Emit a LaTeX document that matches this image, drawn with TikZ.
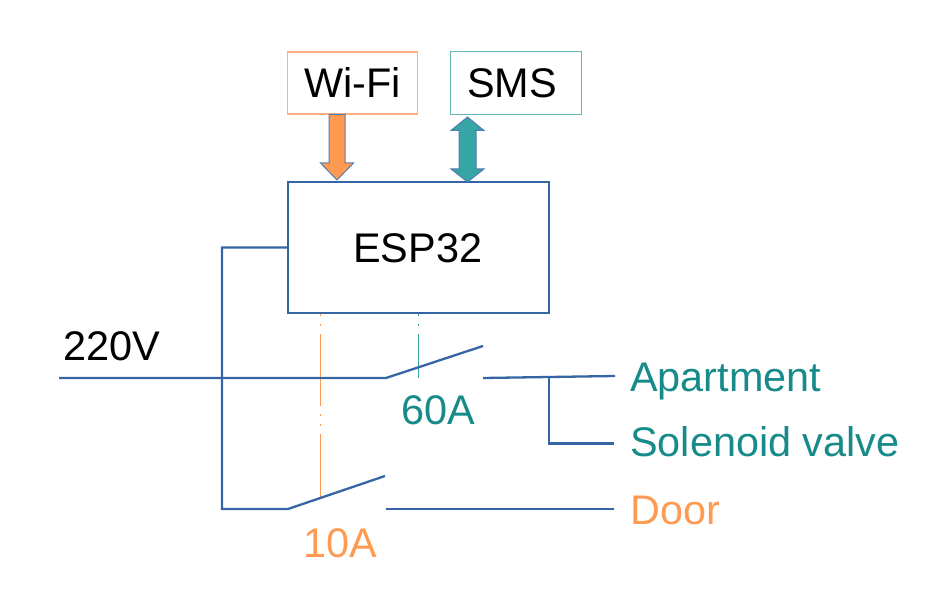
\documentclass[tikz,border=0pt]{standalone}
\usepackage{fontspec}
\setmainfont{Liberation Sans}
\definecolor{wire}{HTML}{3565A5}
\definecolor{orng}{HTML}{FF9A52}
\definecolor{orngline}{HTML}{FFB083}
\definecolor{teal1}{HTML}{36A5A5}
\definecolor{tealline}{HTML}{66B8B8}
\definecolor{tealtxt}{HTML}{178A8A}
\tikzset{
  wireline/.style={draw=wire,line width=2.3pt},
  lbl/.style={font=\fontsize{41.4}{41.4}\selectfont,inner sep=0pt,anchor=base west},
  topbox/.style={line width=1.2pt,fill=white,inner sep=0pt},
  ctrl/.style={line width=1.3pt,dash pattern=on 2pt off 8pt on 2pt off 8pt on 72pt off 8pt},
  blockarrow/.style={draw=wire!85!white,line width=1pt},
}
\begin{document}
\begin{tikzpicture}[x=1pt,y=-1pt]
\useasboundingbox (0,0) rectangle (943,604);
% control lines
\coordinate (c1top) at (320.5,314);
\coordinate (c1bot) at (320.5,498);
\coordinate (c2top) at (418.5,314);
\coordinate (c2bot) at (418.5,378);
\draw[ctrl,draw=orng] (c1top) -- (c1bot);
\draw[ctrl,draw=teal1] (c2top) -- (c2bot);
% boxes
\node[topbox,draw=orngline,minimum width=130pt,minimum height=62pt] (wifi) at (352.5,83) {};
\node[topbox,draw=tealline,minimum width=131pt,minimum height=63pt] (sms) at (516,83) {};
\node[wireline,inner sep=0pt,minimum width=261pt,minimum height=131pt] (esp) at (418.5,247.5) {};
\node[lbl] at (304,98) {Wi-Fi};
\node[lbl] at (467,98) {SMS};
\node[lbl] at (353,263) {ESP32};
% block arrows
\draw[blockarrow,fill=orng] (329,114.5) -- (345,114.5) -- (345,163) -- (353.5,163) -- (337,180) -- (320.5,163) -- (329,163) -- cycle;
\draw[blockarrow,fill=teal1] (467.5,117) -- (484,130.5) -- (476,130.5) -- (476,169) -- (484,169) -- (467.5,182) -- (451,169) -- (459,169) -- (459,130.5) -- (451,130.5) -- cycle;
% wiring
\coordinate (in) at (59,378);
\coordinate (sw1a) at (386,378);
\coordinate (sw1b) at (483,346);
\coordinate (sw1c) at (483,378);
\coordinate (apt) at (615,376);
\coordinate (j) at (549,377);
\coordinate (sol) at (614,443.5);
\coordinate (sw2a) at (288,509);
\coordinate (sw2b) at (385,476);
\coordinate (sw2c) at (386,509);
\coordinate (door) at (614,509);
\draw[wireline,fill=none] (in) -- (sw1a) -- (sw1b);
\draw[wireline,fill=none] (sw1c) -- (apt);
\draw[wireline,fill=none] (j) -- (549,443.5) -- (sol);
\draw[wireline,fill=none] (esp.west) -- (222,247.5) -- (222,509) -- (sw2a) -- (sw2b);
\draw[wireline,fill=none] (sw2c) -- (door);
% labels
\node[lbl] at (63,360.5) {220V};
\node[lbl,text=tealtxt] at (401,424.5) {60A};
\node[lbl,text=orng] at (303,557.5) {10A};
\node[lbl,text=tealtxt] at (630,391) {Apartment};
\node[lbl,text=tealtxt] at (630,456) {Solenoid valve};
\node[lbl,text=orng] at (630,524) {Door};
\end{tikzpicture}
\end{document}
